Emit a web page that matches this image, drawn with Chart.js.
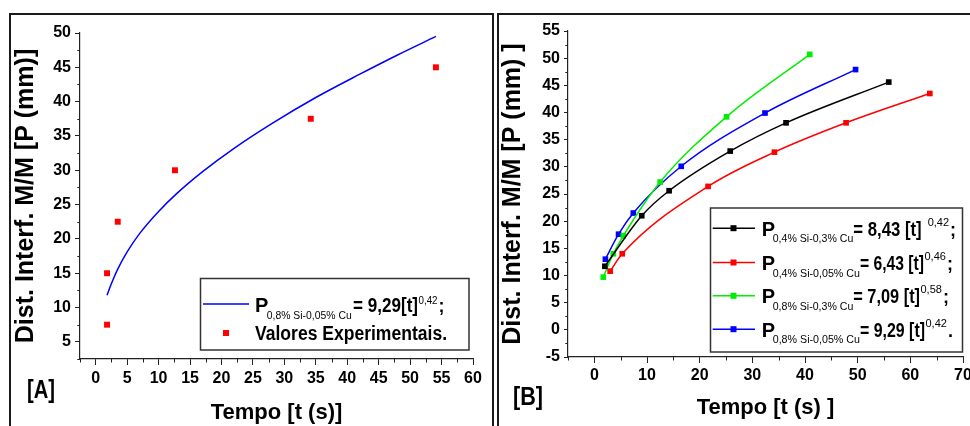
<!DOCTYPE html>
<html>
<head>
<meta charset="utf-8">
<script src="https://cdn.jsdelivr.net/npm/chart.js@4/dist/chart.umd.min.js"></script>
<style>
html,body{margin:0;padding:0;background:#fff;}
body{width:970px;height:426px;overflow:hidden;position:relative;}
.frame{position:absolute;border:2px solid #1a1a1a;border-bottom:none;}
#frameA{left:9px;top:13px;width:481px;height:430px;}
#frameB{left:497px;top:13px;width:520px;height:430px;}
canvas{position:absolute;top:0;}
#cA{left:0;}
#cB{left:497px;}
</style>
</head>
<body>
<div class="frame" id="frameA"></div>
<div class="frame" id="frameB"></div>
<canvas id="cA" width="495" height="426"></canvas>
<canvas id="cB" width="503" height="426"></canvas>
<script>
const FONT = "'Liberation Sans', Arial, Helvetica, sans-serif";

// ---------- Panel A data ----------
const aFitT = [1.8, 2.5, 3.5, 5, 7, 10, 13, 17, 22, 28, 35, 42, 48, 54.1];
const aFitP = [11.8, 13.5, 15.6, 18.1, 20.8, 24.0, 26.7, 29.8, 33.2, 36.8, 40.6, 44.0, 46.8, 49.5];
const aExpT = [1.8, 1.8, 3.5, 12.6, 34.2, 54.1];
const aExpP = [7.5, 15.0, 22.5, 30.0, 37.5, 45.0];
const aXTickLabels = [0, 5, 10, 15, 20, 25, 30, 35, 40, 45, 50, 55, 60];
const aYTickLabels = [5, 10, 15, 20, 25, 30, 35, 40, 45, 50];

// ---------- Panel B data ----------
const bBlackT = [2.0, 9.0, 14.2, 25.8, 36.4, 55.9];
const bBlackP = [11.7, 21.0, 25.6, 32.9, 38.1, 45.6];
const bRedT = [3.0, 5.3, 21.6, 34.2, 47.8, 63.7];
const bRedP = [10.8, 14.0, 26.4, 32.7, 38.1, 43.5];
const bGreenT = [1.7, 3.6, 5.5, 12.5, 25.1, 40.9];
const bGreenP = [9.7, 14.0, 17.3, 27.2, 39.2, 50.7];
const bBlueT = [2.1, 4.6, 7.4, 16.5, 32.4, 49.6];
const bBlueP = [13.0, 17.6, 21.5, 30.1, 39.9, 47.9];
const bXTickLabels = [0, 10, 20, 30, 40, 50, 60, 70];
const bYTickLabels = [-5, 0, 5, 10, 15, 20, 25, 30, 35, 40, 45, 50, 55];

const aLegendSub = '0,8% Si-0,05% Cu';
const aLegendEq = '= 9,29[t]';
const aLegendExp = '0,42';
const aLegendExpLabel = 'Valores Experimentais.';
const bLegendSubs = ['0,4% Si-0,3% Cu', '0,4% Si-0,05% Cu', '0,8% Si-0,3% Cu', '0,8% Si-0,05% Cu'];
const bLegendEqs = ['= 8,43 [t]', '= 6,43 [t]', '= 7,09 [t]', '= 9,29 [t]'];
const bLegendExps = ['0,42', '0,46', '0,58', '0,42'];
const bLegendEnds = [';', ';', ';', '.'];
const bColors = ['#000000', '#ff0000', '#00ee00', '#0000ff'];

const zip = (xs, ys) => xs.map((x, i) => ({x: x, y: ys[i]}));
const near = (arr, v) => arr.some(a => Math.abs(a - v) < 1e-6);

function tickFont() { return {family: FONT, size: 16, weight: 'bold', lineHeight: 1.2}; }

function makeAxis(opts) {
  return {
    type: 'linear',
    min: opts.min, max: opts.max,
    afterFit: opts.fit,
    ticks: {
      stepSize: opts.step, autoSkip: false, maxRotation: 0, minRotation: 0,
      padding: opts.pad, color: '#000', font: tickFont(),
      callback: v => near(opts.labels, v) ? String(v) : ''
    },
    grid: {
      display: true, drawOnChartArea: false, drawTicks: true,
      tickLength: opts.tl, tickWidth: 1,
      tickColor: c => (c.tick && c.tick.label === '') ? 'rgba(0,0,0,0)' : '#222'
    },
    border: {display: true, color: '#222', width: 1.2},
    title: {
      display: true, text: opts.title, color: '#000',
      font: {family: FONT, size: opts.tsize, weight: 'bold', lineHeight: 1},
      padding: opts.tpad
    }
  };
}

const minorTicks = {
  id: 'minorTicks',
  afterDraw(chart) {
    const ctx = chart.ctx;
    ctx.save();
    ctx.strokeStyle = '#222';
    ctx.lineWidth = 1;
    const xs = chart.scales.x, ys = chart.scales.y;
    xs.ticks.forEach(t => {
      if (t.label !== '') return;
      const px = Math.round(xs.getPixelForValue(t.value)) + 0.5;
      ctx.beginPath(); ctx.moveTo(px, xs.top); ctx.lineTo(px, xs.top + 3.5); ctx.stroke();
    });
    ys.ticks.forEach(t => {
      if (t.label !== '') return;
      const py = Math.round(ys.getPixelForValue(t.value)) + 0.5;
      ctx.beginPath(); ctx.moveTo(ys.right, py); ctx.lineTo(ys.right - 2.7, py); ctx.stroke();
    });
    ctx.restore();
  }
};

function drawSeg(ctx, s, ox, base) {
  ctx.save();
  ctx.font = s.f;
  ctx.fillStyle = '#000';
  ctx.textAlign = 'left';
  ctx.textBaseline = 'alphabetic';
  const m = ctx.measureText(s.t).width;
  const sx = s.w ? s.w / m : 1;
  ctx.translate(s.x - ox, base + (s.dy || 0));
  ctx.scale(sx, 1);
  ctx.fillText(s.t, 0, 0);
  ctx.restore();
  return s.x + m * sx;
}

const B = "bold 20px " + FONT;

const decorA = {
  id: 'decorA',
  afterDraw(chart) {
    const ctx = chart.ctx;
    ctx.save();
    ctx.strokeStyle = '#333'; ctx.lineWidth = 1.5;
    ctx.strokeRect(200.5, 278.5, 268.5, 71.5);
    ctx.strokeStyle = '#0000ff'; ctx.lineWidth = 1.5;
    ctx.beginPath(); ctx.moveTo(203, 304); ctx.lineTo(249, 304); ctx.stroke();
    ctx.fillStyle = '#ff0000';
    ctx.fillRect(223, 330, 6, 6);
    ctx.restore();
    const base1 = 312;
    drawSeg(ctx, {t: 'P', x: 255, f: B}, 0, base1);
    drawSeg(ctx, {t: aLegendSub, x: 266.7, dy: 7, f: '11px ' + FONT, w: 85}, 0, base1);
    const e = drawSeg(ctx, {t: aLegendEq, x: 353, f: B, w: 65}, 0, base1);
    const s = drawSeg(ctx, {t: aLegendExp, x: e + 0.5, dy: -8, f: '11px ' + FONT, w: 19}, 0, base1);
    drawSeg(ctx, {t: ';', x: s + 1, f: 'bold 18px ' + FONT}, 0, base1);
    drawSeg(ctx, {t: aLegendExpLabel, x: 255, f: B, w: 192}, 0, 340);
    drawSeg(ctx, {t: '[A]', x: 27, f: 'bold 25px ' + FONT, w: 28}, 0, 398);
  }
};

const OXB = 497;
const decorB = {
  id: 'decorB',
  afterDraw(chart) {
    const ctx = chart.ctx;
    ctx.save();
    ctx.strokeStyle = '#333'; ctx.lineWidth = 1.5;
    ctx.strokeRect(710.5 - OXB, 208, 252, 144);
    ctx.restore();
    const bases = [235.7, 270, 303.3, 336.7];
    const subW = [80.6, 87.3, 80.6, 87.3];
    const eqX = [853.3, 860, 853.3, 860];
    const eqW = [68.4, 64, 66.7, 65];
    const supGap = [6, 0.5, 0.5, 0.5];
    bases.forEach((b, i) => {
      const ly = b - 7.5;
      ctx.save();
      ctx.strokeStyle = bColors[i]; ctx.lineWidth = 1.5;
      ctx.beginPath(); ctx.moveTo(712.7 - OXB, ly); ctx.lineTo(755 - OXB, ly); ctx.stroke();
      ctx.fillStyle = bColors[i];
      ctx.fillRect(733.5 - OXB - 3, ly - 3, 6, 6);
      ctx.restore();
      drawSeg(ctx, {t: 'P', x: 761.7, f: B}, OXB, b);
      drawSeg(ctx, {t: bLegendSubs[i], x: 772.7, dy: 6.7, f: '10.5px ' + FONT, w: subW[i]}, OXB, b);
      const e = drawSeg(ctx, {t: bLegendEqs[i], x: eqX[i], f: B, w: eqW[i]}, OXB, b);
      const s = drawSeg(ctx, {t: bLegendExps[i], x: e + supGap[i], dy: -10, f: '11px ' + FONT}, OXB, b);
      drawSeg(ctx, {t: bLegendEnds[i], x: s + 1, f: 'bold 18px ' + FONT}, OXB, b);
    });
    drawSeg(ctx, {t: '[B]', x: 513, f: 'bold 26px ' + FONT, w: 30}, OXB, 405);
  }
};

new Chart(document.getElementById('cA'), {
  type: 'scatter',
  data: {
    datasets: [
      {data: zip(aFitT, aFitP), showLine: true, borderColor: '#0000ff', borderWidth: 1.5,
       pointRadius: 0, cubicInterpolationMode: 'monotone', fill: false},
      {data: zip(aExpT, aExpP), showLine: false, pointStyle: 'rect', pointRadius: 4.2,
       backgroundColor: '#ff0000', borderColor: '#ff0000', borderWidth: 0}
    ]
  },
  options: {
    responsive: false, animation: false, devicePixelRatio: 1,
    layout: {padding: {top: 33, right: 22, left: 0, bottom: 0}},
    plugins: {legend: {display: false}, tooltip: {enabled: false}},
    scales: {
      x: makeAxis({min: -2.5, max: 60, step: 2.5, labels: aXTickLabels, pad: 4, tl: 6,
        title: 'Tempo [t (s)]', tsize: 22, tpad: {top: 0, bottom: 2},
        fit: s => { s.height = 67; }}),
      y: makeAxis({min: 2.5, max: 50, step: 2.5, labels: aYTickLabels, pad: 4, tl: 5,
        title: 'Dist. Interf. M/M [P (mm)]', tsize: 25, tpad: {top: 14, bottom: 0},
        fit: s => { s.width = 80; }})
    }
  },
  plugins: [minorTicks, decorA]
});

const bSets = [[bBlackT, bBlackP], [bRedT, bRedP], [bGreenT, bGreenP], [bBlueT, bBlueP]];
new Chart(document.getElementById('cB'), {
  type: 'scatter',
  data: {
    datasets: bSets.map((s, i) => ({
      data: zip(s[0], s[1]), showLine: true, borderColor: bColors[i], borderWidth: 1.5,
      cubicInterpolationMode: 'monotone', pointStyle: 'rect', pointRadius: 4,
      backgroundColor: bColors[i], pointBorderWidth: 0, fill: false
    }))
  },
  options: {
    responsive: false, animation: false, devicePixelRatio: 1,
    layout: {padding: {top: 31, right: 37, left: 0, bottom: 0}},
    plugins: {legend: {display: false}, tooltip: {enabled: false}},
    scales: {
      x: makeAxis({min: -5, max: 70, step: 5, labels: bXTickLabels, pad: 3, tl: 6,
        title: 'Tempo [t (s) ]', tsize: 22, tpad: {top: 0, bottom: 7},
        fit: s => { s.height = 69; }}),
      y: makeAxis({min: -5, max: 55, step: 2.5, labels: bYTickLabels, pad: 4, tl: 4,
        title: 'Dist. Interf. M/M [P (mm) ]', tsize: 25, tpad: {top: 4, bottom: 0},
        fit: s => { s.width = 71; }})
    }
  },
  plugins: [minorTicks, decorB]
});
</script>
</body>
</html>
